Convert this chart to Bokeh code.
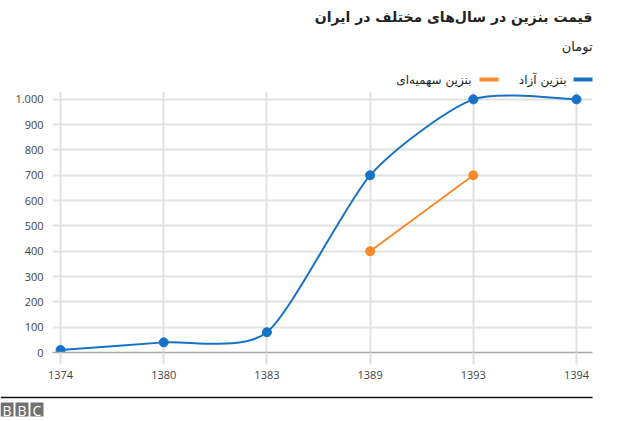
import numpy as np
from bokeh.plotting import figure
from bokeh.models import Range1d, FixedTicker
from bokeh.layouts import column
from bokeh.embed import file_html
from bokeh.resources import INLINE
from bokeh.core.properties import value

# ---------------- data ----------------
years = ["1374", "1380", "1383", "1389", "1393", "1394"]
free_price = [10, 40, 80, 700, 1000, 1000]
quota_years = ["1389", "1393"]
quota_price = [400, 700]
y_ticks = [0, 100, 200, 300, 400, 500, 600, 700, 800, 900, 1000]
y_tick_labels = ["0", "100", "200", "300", "400", "500", "600", "700", "800", "900", "1.000"]
title_text = "قیمت بنزین در سال‌های مختلف در ایران"
subtitle_text = "تومان"
legend_labels = ["بنزین آزاد", "بنزین سهمیه‌ای"]
logo_letters = ["B", "B", "C"]

BLUE = "#1672c6"
ORANGE = "#f7892a"
W = 624
FA_FONT = "DejaVu Sans"
NUM_FONT = "Open Sans"


def no_align(fig):
    if "frame_align" in fig.properties():
        fig.frame_align = False


# ---------------- header ----------------
HH = 88
header = figure(width=W, height=HH, x_range=Range1d(0, W), y_range=Range1d(HH, 0),
                output_backend="svg", toolbar_location=None, min_border=0)
no_align(header)
header.axis.visible = False
header.grid.visible = False
header.outline_line_color = None
header.text(x=[592], y=[16], text=[title_text], text_align="right", text_baseline="middle",
            text_font=value(FA_FONT), text_font_size="14px", text_font_style="bold",
            text_color="#222222")
header.text(x=[592], y=[46], text=[subtitle_text], text_align="right", text_baseline="middle",
            text_font=value(FA_FONT), text_font_size="13px", text_color="#222222")
header.quad(left=[573, 479], right=[592, 498], top=[77, 77], bottom=[81, 81],
            color=[BLUE, ORANGE], line_color=None)
header.text(x=[566, 471], y=[79, 79], text=legend_labels, text_align="right",
            text_baseline="middle", text_font=value(FA_FONT), text_font_size="12px",
            text_color="#222222")

# ---------------- chart ----------------
n = len(years)
x_idx = np.arange(n, dtype=float)
y_arr = np.array(free_price, dtype=float)
qx = [years.index(y) for y in quota_years]

CH = 302
p = figure(width=W, height=CH, x_range=Range1d(-0.078, 5.155), y_range=Range1d(0, 1031),
           output_backend="svg", toolbar_location=None,
           min_border_left=52, min_border_right=32, min_border_top=3, min_border_bottom=38)
no_align(p)
p.outline_line_color = None

# cardinal spline through data points (bezier control points)
k = 0.3
idx_prev = np.clip(np.arange(n) - 1, 0, n - 1)
idx_next = np.clip(np.arange(n) + 1, 0, n - 1)
tx = (x_idx[idx_next] - x_idx[idx_prev]) * (1 - k) / 6
ty = (y_arr[idx_next] - y_arr[idx_prev]) * (1 - k) / 6
p.bezier(x0=x_idx[:-1], y0=y_arr[:-1], x1=x_idx[1:], y1=y_arr[1:],
         cx0=x_idx[:-1] + tx[:-1], cy0=y_arr[:-1] + ty[:-1],
         cx1=x_idx[1:] - tx[1:], cy1=y_arr[1:] - ty[1:],
         line_color=BLUE, line_width=2)
p.scatter(x_idx, y_arr, size=9, color=BLUE)

p.line(qx, quota_price, line_color=ORANGE, line_width=2)
p.scatter(qx, quota_price, size=9, color=ORANGE)

p.xaxis.ticker = FixedTicker(ticks=list(range(n)))
p.xaxis.major_label_overrides = {i: y for i, y in enumerate(years)}
p.xaxis.axis_line_color = "#a8a8a8"
p.xaxis.axis_line_width = 1.5
p.xaxis.major_tick_out = 12
p.xaxis.major_tick_in = 0
p.xaxis.major_tick_line_color = "#e0e0e0"
p.xaxis.major_tick_line_width = 2
p.xaxis.minor_tick_line_color = None
p.xaxis.major_label_standoff = 6
p.xaxis.major_label_text_font = NUM_FONT
p.xaxis.major_label_text_font_size = "11px"
p.xaxis.major_label_text_color = "#444444"

p.yaxis.ticker = FixedTicker(ticks=y_ticks)
p.yaxis.major_label_overrides = dict(zip(y_ticks, y_tick_labels))
p.yaxis.axis_line_color = None
p.yaxis.major_tick_line_color = None
p.yaxis.minor_tick_line_color = None
p.yaxis.major_label_standoff = 3
p.yaxis.major_label_text_font = NUM_FONT
p.yaxis.major_label_text_font_size = "11px"
p.yaxis.major_label_text_color = "#444444"

p.xgrid.ticker = FixedTicker(ticks=list(range(n)))
p.ygrid.ticker = FixedTicker(ticks=y_ticks)
p.grid.grid_line_color = "#e1e1e1"
p.grid.grid_line_width = 2

# ---------------- footer ----------------
FH = 421 - HH - CH
footer = figure(width=W, height=FH, x_range=Range1d(0, W), y_range=Range1d(421, 421 - FH),
                output_backend="svg", toolbar_location=None, min_border=0)
no_align(footer)
footer.axis.visible = False
footer.grid.visible = False
footer.outline_line_color = None
footer.segment(x0=[0], y0=[397], x1=[592], y1=[397], line_color="#111111", line_width=1.5)
lefts = [0, 15, 30]
footer.quad(left=lefts, right=[l + 13 for l in lefts], top=[402] * 3, bottom=[416] * 3,
            color="#707070", line_color=None)
footer.text(x=[l + 6.5 for l in lefts], y=[409.5] * 3, text=logo_letters, text_align="center",
            text_baseline="middle", text_font=value("Open Sans"), text_font_size="14px",
            text_color="white")

layout = column(header, p, footer, spacing=0)
open("out.html", "w").write(file_html(layout, INLINE))
